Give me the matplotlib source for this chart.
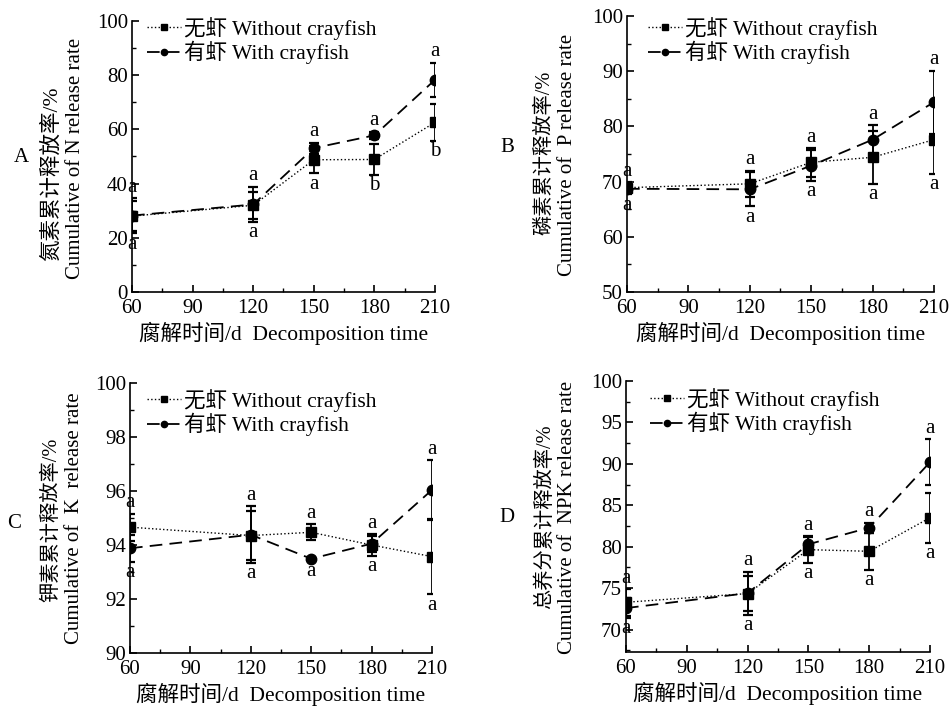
import numpy as np
import matplotlib
matplotlib.use("Agg")
import matplotlib.pyplot as plt
from matplotlib.ticker import MultipleLocator

plt.rcParams["font.family"] = ["Liberation Serif", "Noto Sans CJK SC"]
plt.rcParams["axes.unicode_minus"] = False

days = [60, 120, 150, 180, 210]

# A: nitrogen
n_without = [28.0, 32.0, 48.8, 48.9, 62.6]
n_without_err = [5.5, 5.0, 5.0, 5.7, 6.8]
n_with = [28.2, 32.3, 53.1, 57.8, 78.3]
n_with_err = [6.5, 6.5, 2.0, 1.4, 6.3]
n_upper = ["a", "a", "a", "a", "a"]
n_lower = ["a", "a", "a", "b", "b"]

# B: phosphorus
p_without = [68.9, 69.6, 73.5, 74.4, 77.6]
p_without_err = [1.0, 2.4, 2.6, 4.8, 6.2]
p_with = [68.7, 68.6, 72.9, 77.6, 84.4]
p_with_err = [1.0, 3.1, 2.8, 2.6, 5.7]
p_upper = ["a", "a", "a", "a", "a"]
p_lower = ["a", "a", "a", "a", "a"]

# C: potassium
k_without = [94.66, 94.35, 94.47, 94.0, 93.57]
k_without_err = [0.5, 0.9, 0.3, 0.4, 1.4]
k_with = [93.88, 94.38, 93.49, 94.05, 96.04]
k_with_err = [0.5, 1.05, 0.05, 0.3, 1.1]
k_upper = ["a", "a", "a", "a", "a"]
k_lower = ["a", "a", "a", "a", "a"]

# D: total NPK
t_without = [73.3, 74.35, 79.65, 79.45, 83.5]
t_without_err = [1.6, 2.1, 1.6, 2.2, 3.0]
t_with = [72.6, 74.4, 80.3, 82.3, 90.2]
t_with_err = [1.2, 2.6, 0.9, 0.6, 2.8]
t_upper = ["a", "a", "a", "a", "a"]
t_lower = ["a", "a", "a", "a", "a"]

legend_without = "无虾 Without crayfish"
legend_with = "有虾 With crayfish"
xlabel = "腐解时间/d  Decomposition time"

W, H = 953, 706

# positions below are in figure pixels (from top-left)
panels = [
    dict(tag="A", box=(132, 21, 435, 292), ylim=(0, 100), major=20, minor=10,
         ylab_cn="氮素累计释放率/%", ylab_en="Cumulative of N release rate",
         cn_xy=(52, 174), cn_size=15.5, en_xy=(76, 158),
         wo=n_without, wo_e=n_without_err, wi=n_with, wi_e=n_with_err, up=n_upper, lo=n_lower,
         tag_xy=(21, 157), leg_xy=(147, 17)),
    dict(tag="B", box=(627, 16, 934, 292), ylim=(50, 100), major=10, minor=5,
         ylab_cn="磷素累计释放率/%", ylab_en="Cumulative of  P release rate",
         cn_xy=(545, 153), cn_size=14.6, en_xy=(568, 155),
         wo=p_without, wo_e=p_without_err, wi=p_with, wi_e=p_with_err, up=p_upper, lo=p_lower,
         tag_xy=(507, 147), leg_xy=(648, 17)),
    dict(tag="C", box=(130, 383, 432, 653), ylim=(90, 100), major=2, minor=1,
         ylab_cn="钾素累计释放率/%", ylab_en="Cumulative of  K  release rate",
         cn_xy=(52, 520), cn_size=14.6, en_xy=(75, 518),
         wo=k_without, wo_e=k_without_err, wi=k_with, wi_e=k_with_err, up=k_upper, lo=k_lower,
         tag_xy=(14, 523), leg_xy=(147, 389)),
    dict(tag="D", box=(626, 381, 930, 652), ylim=(67.3, 100), major=5, minor=2.5,
         ylab_cn="总养分累计释放率/%", ylab_en="Cumulative of  NPK release rate",
         cn_xy=(545, 517), cn_size=14.6, en_xy=(568, 517),
         wo=t_without, wo_e=t_without_err, wi=t_with, wi_e=t_with_err, up=t_upper, lo=t_lower,
         tag_xy=(507, 517), leg_xy=(650, 388)),
]


def fx(x):
    return x / W


def fy(y):
    return 1 - y / H


fig = plt.figure(figsize=(W / 100, H / 100), dpi=100)

for p in panels:
    x0, y0, x1, y1 = p["box"]
    ax = fig.add_axes([fx(x0), fy(y1), (x1 - x0) / W, (y1 - y0) / H])
    # error bars
    ax.errorbar(days, p["wo"], yerr=p["wo_e"], fmt="none", ecolor="black",
                capsize=3.5, capthick=1.6, elinewidth=1.3)
    ax.errorbar(days, p["wi"], yerr=p["wi_e"], fmt="none", ecolor="black",
                capsize=3.5, capthick=1.6, elinewidth=1.3)
    # lines
    ax.plot(days, p["wo"], color="black", ls=":", lw=1.0, marker="s", ms=7,
            label=legend_without)
    ax.plot(days, p["wi"], color="black", ls=(0, (7, 4)), lw=1.3, marker="o", ms=7.5,
            label=legend_with)

    # significance letters above and below each time point
    for i, d in enumerate(days):
        top = max(p["wo"][i] + p["wo_e"][i], p["wi"][i] + p["wi_e"][i])
        bot = min(p["wo"][i] - p["wo_e"][i], p["wi"][i] - p["wi_e"][i])
        ax.annotate(p["up"][i], (d, top), xytext=(0, 1), textcoords="offset points",
                    ha="center", va="bottom", fontsize=15)
        ax.annotate(p["lo"][i], (d, bot), xytext=(0, -1), textcoords="offset points",
                    ha="center", va="top", fontsize=15)

    ax.set_xlim(60, 210)
    ax.set_xticks([60, 90, 120, 150, 180, 210])
    ax.xaxis.set_minor_locator(MultipleLocator(15))
    ax.yaxis.set_major_locator(MultipleLocator(p["major"]))
    ax.yaxis.set_minor_locator(MultipleLocator(p["minor"]))
    ax.set_ylim(*p["ylim"])
    ax.tick_params(which="major", direction="in", length=5, width=1.2, labelsize=15, pad=3)
    ax.tick_params(axis="x", which="major", pad=5)
    ax.tick_params(which="minor", direction="in", length=3, width=1.0)
    for s in ["top", "right"]:
        ax.spines[s].set_visible(False)
    for s in ["left", "bottom"]:
        ax.spines[s].set_linewidth(1.2)
    ax.set_xlabel(xlabel, fontsize=15.5, labelpad=3)

    fig.text(fx(p["cn_xy"][0]), fy(p["cn_xy"][1]), p["ylab_cn"], rotation=90,
             fontsize=p["cn_size"], ha="center", va="center")
    fig.text(fx(p["en_xy"][0]), fy(p["en_xy"][1]), p["ylab_en"], rotation=90,
             fontsize=15, ha="center", va="center")

    ax.legend(loc="upper left", bbox_to_anchor=(fx(p["leg_xy"][0]), fy(p["leg_xy"][1])),
              bbox_transform=fig.transFigure, frameon=False,
              fontsize=15.5, handlelength=1.6, handletextpad=0.1, labelspacing=0.05,
              borderpad=0, borderaxespad=0, markerscale=0.6)

    fig.text(fx(p["tag_xy"][0]), fy(p["tag_xy"][1]), p["tag"], fontsize=15,
             ha="center", va="center")

fig.savefig("out.png", dpi=100)
